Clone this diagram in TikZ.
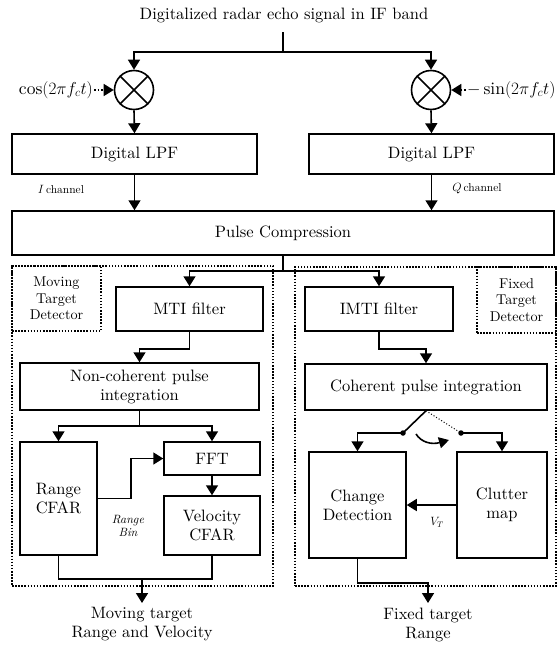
\documentclass[tikz,border=0pt]{standalone}
\usepackage{fontspec}
\setmainfont{lmroman10-regular.otf}[ItalicFont=lmroman10-italic.otf]
\usetikzlibrary{arrows.meta}
\begin{document}
\begin{tikzpicture}[x=1pt,y=-1pt,
  box/.style={draw, line width=1.5pt, inner sep=0pt, align=center,
    font=\fontsize{16.5}{19}\selectfont},
  arr/.style={line width=1.6pt, -{Triangle[length=10pt,width=12pt]}},
  darr/.style={line width=1.6pt, dotted, -{Triangle[length=10pt,width=12pt]}},
  wire/.style={line width=1.6pt},
  frame/.style={line width=1.5pt, dash pattern=on 1.5pt off 1.6pt},
  lbl/.style={font=\fontsize{16.5}{19}\selectfont, align=center, inner sep=1pt},
  outlbl/.style={lbl, anchor=north, inner ysep=4.5pt},
  mathlbl/.style={font=\fontsize{17.5}{19}\selectfont, inner sep=1pt},
  tag/.style={font=\fontsize{14.2}{16.5}\selectfont, align=center, inner sep=0pt},
  small/.style={font=\fontsize{11.5}{13}\selectfont, inner sep=1pt},
  mixer/.style={draw, circle, line width=1.6pt, minimum size=39pt, inner sep=0pt},
  dot/.style={circle, fill, minimum size=5.5pt, inner sep=0pt}]
\useasboundingbox (0,0) rectangle (558,648);

% input and mixers
\node[lbl] (title) at (284,15) {Digitalized radar echo signal in IF band};
\coordinate (src) at (283,32);
\coordinate (split) at (283,52);
\node[mixer] (mixL) at (134,90) {};
\node[mixer] (mixR) at (431,90) {};
\foreach \m in {mixL,mixR}{
  \draw[line width=1.6pt] (\m.north west) -- (\m.south east)
                          (\m.north east) -- (\m.south west);}
\node[mathlbl, anchor=east] (cosL) at (94,90) {$\cos(2\pi f_c t)$};
\node[mathlbl, anchor=west] (sinR) at (466,90) {$-\sin(2\pi f_c t)$};
\draw[wire] (src) -- (split);
\draw[arr] (split) -| (mixL.north);
\draw[arr] (split) -| (mixR.north);
\draw[darr] (cosL.east) -- (mixL.west);
\draw[darr] (sinR.west) -- (mixR.east);

% low-pass filters and pulse compression
\node[box, minimum width=245pt, minimum height=40pt] (lpfL) at (134.5,154) {Digital LPF};
\node[box, minimum width=245pt, minimum height=40pt] (lpfR) at (431.5,154) {Digital LPF};
\node[box, minimum width=542pt, minimum height=44pt] (pc) at (283,233) {Pulse Compression};
\draw[arr] (mixL.south) -- (lpfL.north);
\draw[arr] (mixR.south) -- (lpfR.north);
\draw[arr] (lpfL.south) -- (lpfL.south |- pc.north);
\draw[arr] (lpfR.south) -- (lpfR.south |- pc.north);
\node[small] (ich) at (61,189) {$I$\,channel};
\node[small] (qch) at (477,189) {$Q$\,channel};

% detector zones
\node[draw, frame, minimum width=261pt, minimum height=320pt] (zoneL) at (142.5,426) {};
\node[draw, frame, minimum width=261pt, minimum height=319pt] (zoneR) at (425.5,426.5) {};
\node[draw, frame, tag, minimum width=89pt, minimum height=65pt] (mtd) at (56.5,298.5) {Moving\\Target\\Detector};
\node[draw, frame, tag, minimum width=79pt, minimum height=66pt] (ftd) at (516.5,300) {Fixed\\Target\\Detector};

\coordinate (split2) at (283,271);
\draw[wire] (pc.south) -- (split2);

% moving target branch
\node[box, minimum width=147pt, minimum height=44pt] (mti) at (189.5,309) {MTI filter};
\node[box, minimum width=239pt, minimum height=47pt] (nc) at (139.5,386.5) {Non-coherent pulse\\integration};
\node[box, minimum width=77pt, minimum height=113pt] (rcfar) at (58.5,498.5) {Range\\CFAR};
\node[box, minimum width=96pt, minimum height=33pt] (fft) at (212,458.5) {FFT};
\node[box, minimum width=96pt, minimum height=59pt] (vcfar) at (212,525.5) {Velocity\\CFAR};
\node[outlbl] (outL) at (142,603) {Moving target\\Range and Velocity};
\node[small, align=center, font=\fontsize{12}{13}\selectfont\itshape] (rbin) at (128,525.5) {Range\\Bin};

\draw[arr] (split2) -| (mti.north);
\draw[arr] (mti.south) -- ++(0,17) -| (nc.north);
\coordinate (ncsplit) at (139.5,426);
\draw[wire] (nc.south) -- (ncsplit);
\draw[arr] (ncsplit) -| (rcfar.north);
\draw[arr] (ncsplit) -| (fft.north);
\draw[arr] (rcfar.east) -- ++(33.5,0) |- (fft.west);
\draw[arr] (fft.south) -- (vcfar.north);
\coordinate (mjoin) at (142,579);
\draw[wire] (rcfar.south) |- (mjoin) -| (vcfar.south);
\draw[arr] (mjoin) -- (outL.north);

% fixed target branch
\node[box, minimum width=148pt, minimum height=44pt] (imti) at (379,309) {IMTI filter};
\node[box, minimum width=242pt, minimum height=46pt] (cpi) at (426,387) {Coherent pulse integration};
\node[box, minimum width=97pt, minimum height=106pt] (chg) at (357.5,505) {Change\\Detection};
\node[box, minimum width=90pt, minimum height=106pt] (clut) at (502,505) {Clutter\\map};
\node[outlbl] (outR) at (428,603) {Fixed target\\Range};
\node[small] (vt) at (437,522) {$V_T$};

\draw[arr] (split2) -| (imti.north);
\draw[arr] (imti.south) -- ++(0,17) -| (cpi.north);

% switch between change detection and clutter map
\node[dot] (dotL) at (403,433) {};
\node[dot] (dotR) at (461,433) {};
\draw[wire] (cpi.south) -- (dotL.center);
\draw[line width=1pt, dotted] (cpi.south) -- (dotR.center);
\draw[arr] (dotL.center) -| (chg.north);
\draw[arr] (dotR.center) -| (clut.north);
\coordinate (swA) at (416,434);
\coordinate (swB) at (449,440);
\draw[line width=1.6pt, -{Triangle[length=10pt,width=11pt]}]
  (swA) .. controls (421,442) and (431,445) .. (swB);

\draw[arr] (clut.west) -- (chg.east);
\draw[arr] (chg.south) -- ++(0,24) -| (outR.north);
\end{tikzpicture}
\end{document}
